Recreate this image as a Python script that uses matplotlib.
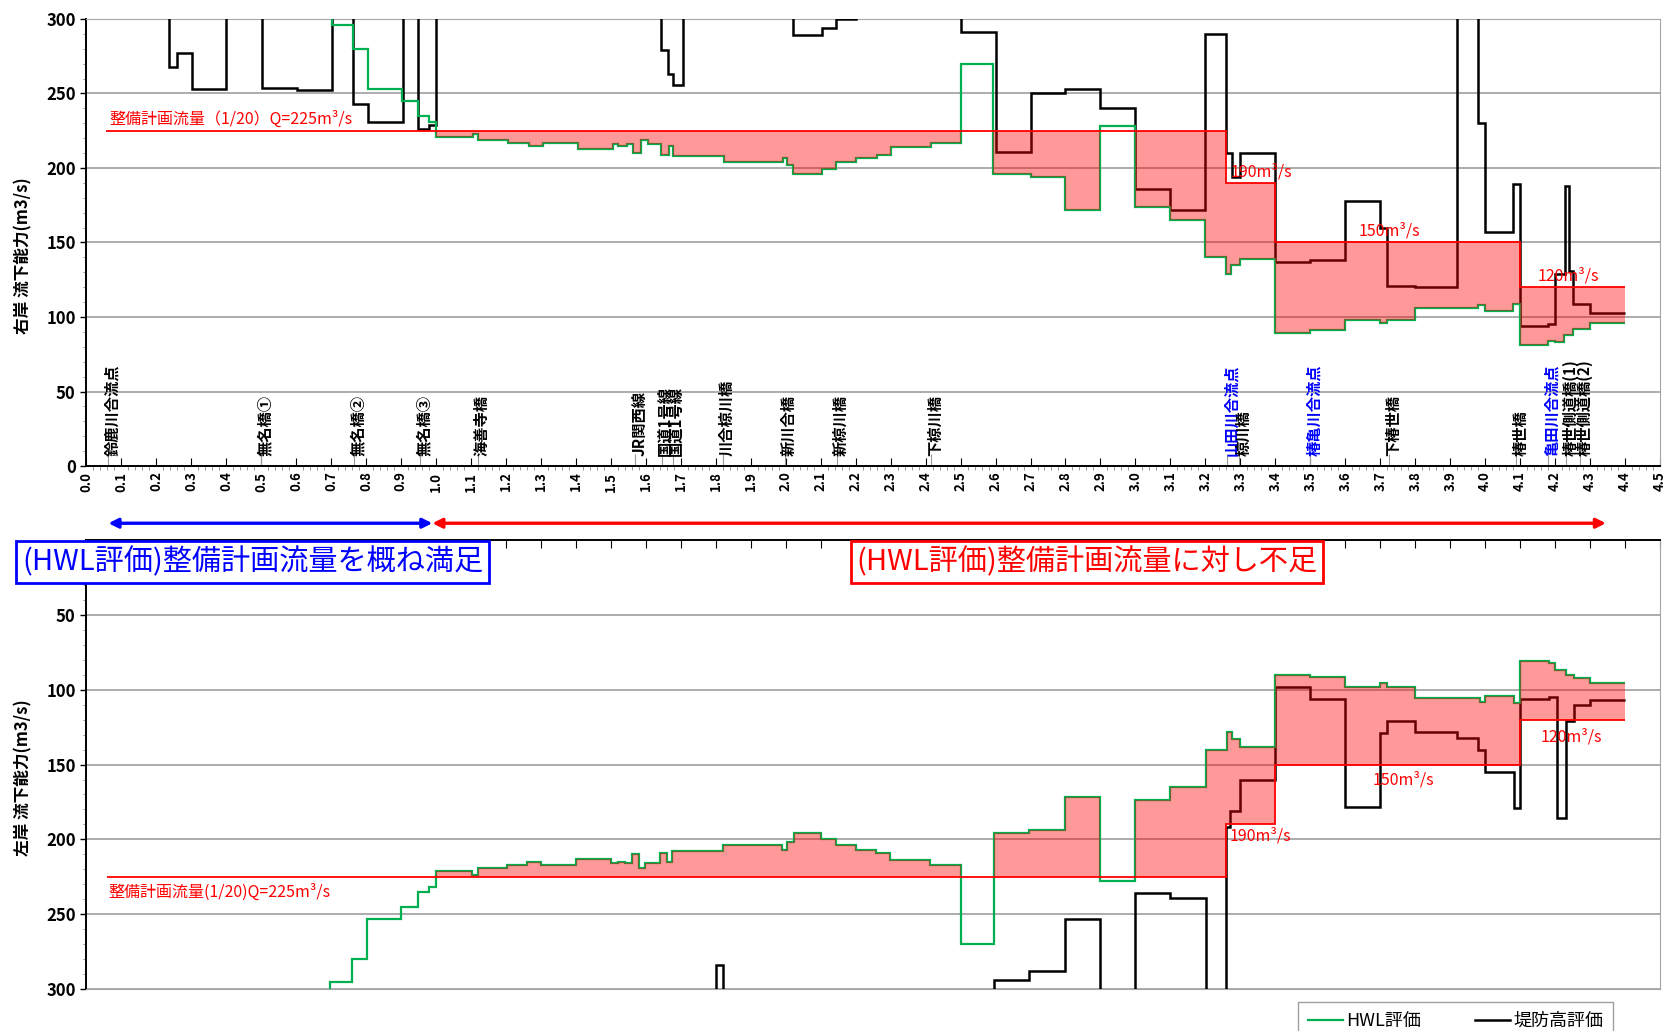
import numpy as np
import matplotlib
matplotlib.use('Agg')
import matplotlib.pyplot as plt
from matplotlib.lines import Line2D
from matplotlib.ticker import MultipleLocator, FormatStrFormatter

plt.rcParams['font.family'] = ['Noto Sans CJK JP', 'DejaVu Sans']

# ---- 右岸 (right bank) ----
r_plan_edges = [0.058, 3.26, 3.40, 4.10, 4.40]
r_plan_vals = [225, 190, 150, 120]

r_hwl_edges = [0.06, 0.703, 0.764, 0.805, 0.902, 0.949, 0.980, 1.000, 1.105, 1.120,
               1.205, 1.266, 1.307, 1.406, 1.507, 1.522, 1.547, 1.565, 1.586, 1.606,
               1.643, 1.666, 1.679, 1.824, 1.993, 2.003, 2.021, 2.104, 2.143, 2.200,
               2.261, 2.302, 2.415, 2.500, 2.594, 2.700, 2.800, 2.900, 3.000, 3.100,
               3.200, 3.258, 3.273, 3.300, 3.400, 3.500, 3.600, 3.700, 3.720, 3.800,
               3.980, 4.000, 4.080, 4.100, 4.180, 4.200, 4.225, 4.250, 4.300, 4.400]
r_hwl_vals = [400, 296, 280, 253, 245, 235, 231, 221, 223,
              219, 217, 215, 217, 213, 216, 215, 216, 210, 219,
              216, 209, 215, 208, 204, 207, 202, 196, 199, 204,
              207, 209, 214, 217, 270, 196, 194, 172, 228, 174,
              165, 140, 129, 135, 139, 89, 91, 98, 96, 98,
              106, 108, 104, 109, 81, 84, 83, 88, 92, 96]

r_levee_edges = [0.06, 0.238, 0.260, 0.302, 0.400, 0.503, 0.602, 0.703, 0.764, 0.805,
                 0.905, 0.949, 0.980, 1.000, 1.643, 1.664, 1.677, 1.706, 2.021, 2.104,
                 2.143, 2.200, 2.500, 2.600, 2.700, 2.800, 2.900, 3.000, 3.100, 3.200,
                 3.260, 3.275, 3.300, 3.400, 3.500, 3.600, 3.700, 3.720, 3.800, 3.920,
                 3.980, 4.000, 4.080, 4.100, 4.180, 4.200, 4.227, 4.240, 4.250, 4.300,
                 4.400]
r_levee_vals = [400, 268, 277, 253, 400, 254, 252, 400, 243,
                231, 400, 226, 229, 400, 279, 263, 256, 400, 289,
                294, 300, 400, 291, 211, 250, 253, 240, 186, 172,
                290, 210, 194, 210, 137, 138, 178, 160, 121, 120,
                400, 230, 157, 189, 94, 95, 129, 188, 131, 109,
                103]

# ---- 左岸 (left bank) ----
l_plan_edges = [0.06, 3.258, 3.40, 4.10, 4.40]
l_plan_vals = [225, 190, 150, 120]

l_hwl_edges = [0.06, 0.698, 0.759, 0.802, 0.900, 0.948, 0.980, 1.000, 1.103, 1.120,
               1.202, 1.261, 1.300, 1.402, 1.502, 1.521, 1.541, 1.560, 1.580, 1.598,
               1.640, 1.660, 1.675, 1.820, 1.990, 2.005, 2.023, 2.100, 2.143, 2.200,
               2.257, 2.297, 2.412, 2.500, 2.597, 2.697, 2.800, 2.900, 3.000, 3.100,
               3.203, 3.262, 3.277, 3.300, 3.400, 3.500, 3.600, 3.700, 3.718, 3.800,
               3.985, 4.000, 4.082, 4.100, 4.182, 4.200, 4.231, 4.254, 4.300, 4.400]
l_hwl_vals = [400, 295, 280, 253, 245, 235, 232, 221, 223.5,
              219, 217, 215, 217, 213, 216, 215, 216, 210, 219,
              216, 209, 215, 208, 204, 207, 202, 196, 200, 204,
              207, 209, 214, 217, 270, 196, 194, 172, 228, 174,
              165, 140, 128.5, 133, 138.5, 90, 91.5, 98, 95.5, 98,
              105.6, 108, 104, 109, 81, 82, 87, 90, 92, 95.5]

l_levee_edges = [0.06, 1.800, 1.820, 2.597, 2.697, 2.800, 2.900, 3.000, 3.100, 3.203,
                 3.258, 3.270, 3.300, 3.400, 3.500, 3.600, 3.700, 3.718, 3.800, 3.920,
                 3.980, 4.000, 4.082, 4.100, 4.182, 4.205, 4.232, 4.254, 4.300, 4.400]
l_levee_vals = [400, 284, 400, 294, 288, 253, 400, 236, 239,
                400, 192, 181, 160, 98, 106, 178.5, 129, 121, 128,
                132, 140, 155, 179, 106, 105, 186, 121, 110, 107]

# 距離標の施設名
landmark_names = ['鈴鹿川合流点', '無名橋①', '無名橋②', '無名橋③', '海善寺橋',
                  'JR関西線', '国道1号線', '国道1号線', '川合椋川橋', '新川合橋',
                  '新椋川橋', '下椋川橋', '山田川合流点', '椋川橋', '椿亀川合流点',
                  '下椿世橋', '椿世橋', '亀田川合流点', '椿世側道橋(1)', '椿世側道橋(2)']
landmark_km = [0.064, 0.50, 0.765, 0.954, 1.12,
               1.570, 1.646, 1.677, 1.820, 1.997,
               2.146, 2.415, 3.262, 3.296, 3.500,
               3.725, 4.088, 4.180, 4.232, 4.271]
confluences = {'山田川合流点', '椿亀川合流点', '亀田川合流点'}

GREEN = '#00B050'
RED = '#FF0000'
GRID = '#A6A6A6'


def step_at(edges, vals, x):
    edges = np.asarray(edges)
    vals = np.asarray(vals, dtype=float)
    idx = np.clip(np.searchsorted(edges, x, side='right') - 1, 0, len(vals) - 1)
    return vals[idx]


def draw_bank(ax, plan_e, plan_v, hwl_e, hwl_v, lev_e, lev_v):
    ax.stairs(lev_v, lev_e, baseline=None, color='black', lw=1.8, zorder=3)
    ax.stairs(hwl_v, hwl_e, baseline=None, color=GREEN, lw=1.6, zorder=3)

    # 不足区間の塗りつぶし (計画流量とHWL評価の間)
    lo = max(plan_e[0], hwl_e[0])
    hi = min(plan_e[-1], hwl_e[-1])
    u = np.unique(np.concatenate([plan_e, hwl_e]))
    u = u[(u >= lo) & (u <= hi)]
    mid = (u[:-1] + u[1:]) / 2
    p = step_at(plan_e, plan_v, mid)
    g = step_at(hwl_e, hwl_v, mid)
    ax.stairs(p, u, baseline=np.minimum(g, p), fill=True, color=RED,
              alpha=0.4, lw=0, zorder=4)

    ax.stairs(plan_v, plan_e, baseline=None, color=RED, lw=1.3, zorder=5)


def style_axes(ax):
    ax.set_xlim(0, 4.5)
    ax.yaxis.set_major_locator(MultipleLocator(50))
    ax.yaxis.set_minor_locator(MultipleLocator(10))
    ax.xaxis.set_major_locator(MultipleLocator(0.1))
    ax.xaxis.set_minor_locator(MultipleLocator(0.02))
    ax.yaxis.grid(True, color=GRID, lw=1.3)
    ax.set_axisbelow(True)
    ax.tick_params(axis='y', which='major', direction='out', length=4,
                   labelsize=12, width=1)
    ax.tick_params(axis='y', which='minor', direction='out', length=2.5, color='#888888')
    for lab in ax.get_yticklabels():
        lab.set_fontweight('bold')


fig = plt.figure(figsize=(16.71, 10.31), dpi=100)
ax1 = fig.add_axes([0.0515, 0.548, 0.942, 0.4336])
ax2 = fig.add_axes([0.0515, 0.0407, 0.942, 0.4355])

# ---- 上段: 右岸 ----
draw_bank(ax1, r_plan_edges, r_plan_vals, r_hwl_edges, r_hwl_vals,
          r_levee_edges, r_levee_vals)
ax1.set_ylim(0, 300)
style_axes(ax1)
ax1.xaxis.set_major_formatter(FormatStrFormatter('%.1f'))
ax1.tick_params(axis='x', which='major', direction='in', length=6, labelsize=9.5,
                labelrotation=90, pad=4)
ax1.tick_params(axis='x', which='minor', direction='out', length=3, color='#888888')
for lab in ax1.get_xticklabels():
    lab.set_fontweight('bold')
for side in ['top', 'right']:
    ax1.spines[side].set_color(GRID)
for side in ['left', 'bottom']:
    ax1.spines[side].set_linewidth(1.4)

for name, km in zip(landmark_names, landmark_km):
    ax1.vlines(km, 0, 8, color='#999999', lw=0.8, zorder=2)
    ax1.text(km + 0.012, 7, name, rotation=90, ha='center', va='bottom',
             fontsize=11, fontweight='bold',
             color='blue' if name in confluences else 'black', zorder=6)

ax1.text(0.066, 233, '整備計画流量（1/20）Q=225m³/s', color=RED, fontsize=11.5,
         ha='left', va='center', zorder=6)
ax1.text(3.271, 197.5, '190m³/s', color=RED, fontsize=11.5, ha='left', va='center', zorder=6)
ax1.text(3.637, 157.5, '150m³/s', color=RED, fontsize=11.5, ha='left', va='center', zorder=6)
ax1.text(4.149, 127.5, '120m³/s', color=RED, fontsize=11.5, ha='left', va='center', zorder=6)

# ---- 下段: 左岸 (縦軸反転) ----
draw_bank(ax2, l_plan_edges, l_plan_vals, l_hwl_edges, l_hwl_vals,
          l_levee_edges, l_levee_vals)
ax2.set_ylim(300, 0)
style_axes(ax2)
ax2.set_yticks([50, 100, 150, 200, 250, 300])
ax2.xaxis.tick_top()
ax2.tick_params(axis='x', which='major', direction='in', length=6, labeltop=False,
                labelbottom=False)
ax2.tick_params(axis='x', which='minor', length=0)
for side in ['bottom', 'right']:
    ax2.spines[side].set_color(GRID)
for side in ['left', 'top']:
    ax2.spines[side].set_linewidth(1.4)

ax2.text(0.064, 235.5, '整備計画流量(1/20)Q=225m³/s', color=RED, fontsize=11.5,
         ha='left', va='center', zorder=6)
ax2.text(3.27, 197.7, '190m³/s', color=RED, fontsize=11.5, ha='left', va='center', zorder=6)
ax2.text(3.677, 160.3, '150m³/s', color=RED, fontsize=11.5, ha='left', va='center', zorder=6)
ax2.text(4.158, 131.8, '120m³/s', color=RED, fontsize=11.5, ha='left', va='center', zorder=6)

# 縦軸タイトル
fig.text(0.014, 0.752, '右岸 流下能力(m3/s)', rotation=90, ha='center', va='center',
         fontsize=12, fontweight='bold')
fig.text(0.014, 0.2456, '左岸 流下能力(m3/s)', rotation=90, ha='center', va='center',
         fontsize=12, fontweight='bold')

# 評価区間の矢印
xt = ax1.get_xaxis_transform()
ax1.annotate('', xy=(0.064, -0.128), xytext=(0.99, -0.128), xycoords=xt,
             arrowprops=dict(arrowstyle='<|-|>', color='blue', lw=2.4,
                             mutation_scale=14, shrinkA=0, shrinkB=0),
             annotation_clip=False)
ax1.annotate('', xy=(0.99, -0.128), xytext=(4.345, -0.128), xycoords=xt,
             arrowprops=dict(arrowstyle='<|-|>', color=RED, lw=2.4,
                             mutation_scale=14, shrinkA=0, shrinkB=0),
             annotation_clip=False)

fig.text(0.1511, 0.4549, '(HWL評価)整備計画流量を概ね満足', color='blue', fontsize=21,
         ha='center', va='center',
         bbox=dict(boxstyle='square,pad=0.2', fc='white', ec='blue', lw=2))
fig.text(0.6505, 0.4549, '(HWL評価)整備計画流量に対し不足', color=RED, fontsize=21,
         ha='center', va='center',
         bbox=dict(boxstyle='square,pad=0.2', fc='white', ec=RED, lw=2))

handles = [Line2D([], [], color=GREEN, lw=1.6), Line2D([], [], color='black', lw=1.8)]
fig.legend(handles, ['HWL評価', '堤防高評価'], ncol=2, loc='upper left',
           bbox_to_anchor=(0.777, 0.028), fontsize=13, frameon=True, fancybox=False,
           edgecolor='#888888', handlelength=1.9, handletextpad=0.2, columnspacing=3.0,
           borderpad=0.55, borderaxespad=0)

fig.savefig('out.png', dpi=100, facecolor='white')
